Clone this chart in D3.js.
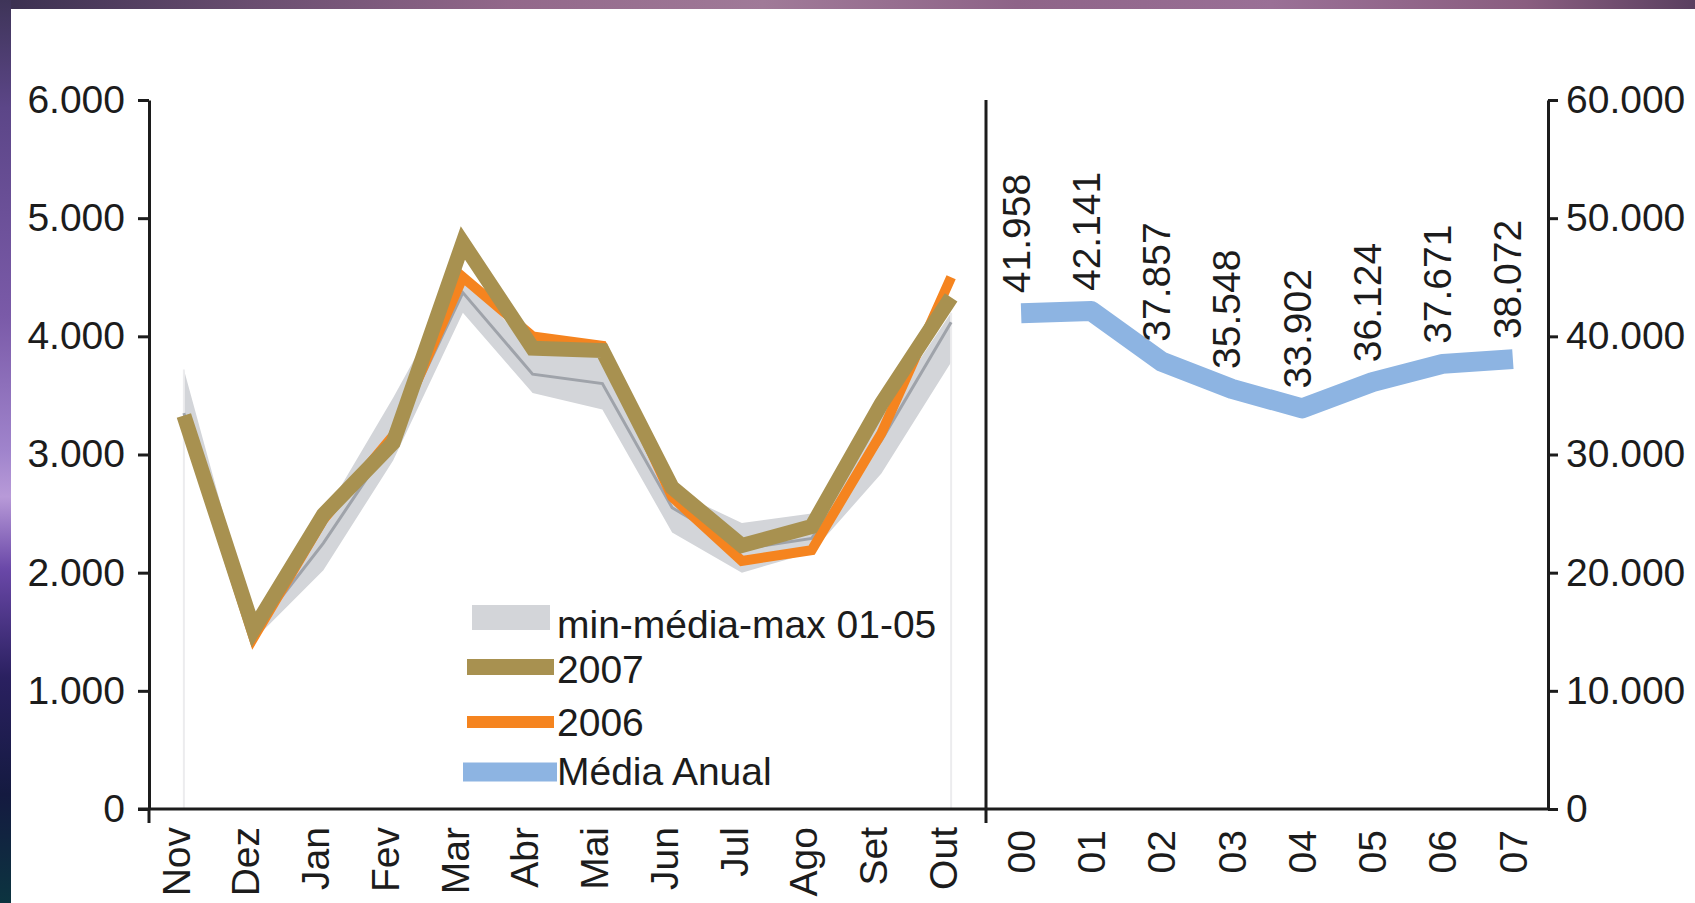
<!DOCTYPE html>
<html lang="pt">
<head>
  <meta charset="UTF-8">
  <title>Média mensal e anual</title>
  <style>
    body { margin: 0; background: #ffffff; }
    svg { display: block; }
    text { font-family: "Liberation Sans", Arial, sans-serif; fill: #1c1c1c; }
  </style>
</head>
<body>
  <div id="chart"></div>
  <script src="https://d3js.org/d3.v7.min.js"></script>
  <script>
    // monthly panel
    const months = ['Nov', 'Dez', 'Jan', 'Fev', 'Mar', 'Abr', 'Mai', 'Jun', 'Jul', 'Ago', 'Set', 'Out'];
    const serie2007 = [3330, 1520, 2490, 3100, 4790, 3900, 3880, 2720, 2230, 2390, 3430, 4330];
    const serie2006 = [3310, 1450, 2450, 3160, 4500, 4000, 3920, 2640, 2100, 2190, 3180, 4500];
    const minimo = [3250, 1430, 2020, 2950, 4200, 3520, 3380, 2340, 2000, 2170, 2840, 3780];
    const media = [3350, 1490, 2250, 3130, 4370, 3680, 3600, 2550, 2200, 2290, 3120, 4120];
    const maximo = [3720, 1560, 2480, 3480, 4550, 3860, 3850, 2700, 2420, 2500, 3320, 4200];

    // annual panel
    const years = ['00', '01', '02', '03', '04', '05', '06', '07'];
    const mediaAnual = [41958, 42141, 37857, 35548, 33902, 36124, 37671, 38072];

    const leftTicks = [0, 1000, 2000, 3000, 4000, 5000, 6000];
    const rightTicks = [0, 10000, 20000, 30000, 40000, 50000, 60000];

    const width = 1695;
    const height = 903;
    const fontSize = 39;

    const pt = d3.formatLocale({ decimal: ',', thousands: '.', grouping: [3], currency: ['', ''] });
    const fmt = pt.format(',');

    const svg = d3.select('#chart')
      .append('svg')
      .attr('width', width)
      .attr('height', height);

    // slide background frame
    const defs = svg.append('defs');
    const gLeft = defs.append('linearGradient').attr('id', 'leftBg')
      .attr('x1', 0).attr('y1', 0).attr('x2', 0).attr('y2', 1);
    [[0, '#3e3458'], [0.12, '#5c4688'], [0.35, '#7a5aa8'], [0.5, '#a084cc'], [0.55, '#b89ad8'],
     [0.63, '#6a48a8'], [0.75, '#2a2060'], [0.88, '#141a40'], [1, '#0c3440']]
      .forEach(s => gLeft.append('stop').attr('offset', s[0]).attr('stop-color', s[1]));
    const gTop = defs.append('linearGradient').attr('id', 'topBg');
    [[0, '#3a3050'], [0.15, '#6a4e70'], [0.3, '#92688a'], [0.45, '#a07a98'], [0.6, '#8e6488'],
     [0.75, '#9a7096'], [0.9, '#8a5e80'], [1, '#5a4060']]
      .forEach(s => gTop.append('stop').attr('offset', s[0]).attr('stop-color', s[1]));

    svg.append('rect').attr('x', 0).attr('y', 0).attr('width', width).attr('height', 9).attr('fill', 'url(#topBg)');
    svg.append('rect').attr('x', 0).attr('y', 0).attr('width', 11).attr('height', height).attr('fill', 'url(#leftBg)');

    const yTop = 100;
    const yBase = 809;
    const xLeft = 149;
    const xMid = 986;
    const xRight = 1548;

    const xM = d3.scaleBand().domain(months).range([xLeft, xMid]);
    const xY = d3.scaleBand().domain(years).range([xMid, xRight]);
    const yL = d3.scaleLinear().domain([0, 6000]).range([yBase, yTop]);
    const yR = d3.scaleLinear().domain([0, 60000]).range([yBase, yTop]);

    const cx = (m) => xM(m) + xM.bandwidth() / 2;
    const cy = (y) => xY(y) + xY.bandwidth() / 2;

    // min-max band
    const band = d3.area()
      .x((d, i) => cx(months[i]))
      .y0((d, i) => yL(minimo[i]))
      .y1((d, i) => yL(maximo[i]));
    svg.append('path')
      .datum(months)
      .attr('d', band)
      .attr('fill', '#d3d5d9');

    // faint edges of the band down to the axis
    [0, months.length - 1].forEach(i => {
      svg.append('line')
        .attr('x1', cx(months[i])).attr('x2', cx(months[i]))
        .attr('y1', yL(maximo[i])).attr('y2', yL(0))
        .attr('stroke', '#ececee').attr('stroke-width', 2);
    });

    const lineOf = (vals) => d3.line()
      .x((d, i) => cx(months[i]))
      .y((d, i) => yL(vals[i]));

    svg.append('path').datum(media).attr('d', lineOf(media)(media))
      .attr('fill', 'none').attr('stroke', '#9fa3aa').attr('stroke-width', 3);

    svg.append('path').datum(serie2006).attr('d', lineOf(serie2006)(serie2006))
      .attr('fill', 'none').attr('stroke', '#f5841f').attr('stroke-width', 10)
      .attr('stroke-linejoin', 'miter');

    svg.append('path').datum(serie2007).attr('d', lineOf(serie2007)(serie2007))
      .attr('fill', 'none').attr('stroke', '#a89150').attr('stroke-width', 15)
      .attr('stroke-linejoin', 'miter');

    // annual line
    const lineA = d3.line()
      .x((d, i) => cy(years[i]))
      .y(d => yR(d));
    svg.append('path').datum(mediaAnual).attr('d', lineA)
      .attr('fill', 'none').attr('stroke', '#8db4e2').attr('stroke-width', 20)
      .attr('stroke-linejoin', 'round');

    svg.selectAll('.val')
      .data(mediaAnual)
      .enter()
      .append('text')
      .attr('class', 'val')
      .attr('transform', (d, i) => `translate(${cy(years[i])}, ${yR(d) - 20}) rotate(-90)`)
      .attr('dy', '0.22em')
      .attr('font-size', fontSize)
      .text(d => fmt(d));

    // axes
    const axisColor = '#1c1c1c';
    const leftAxis = svg.append('g')
      .attr('transform', `translate(${xLeft}, 0)`)
      .call(d3.axisLeft(yL).tickValues(leftTicks).tickSize(11).tickSizeOuter(0).tickPadding(13).tickFormat(fmt));
    const rightAxis = svg.append('g')
      .attr('transform', `translate(${xRight}, 0)`)
      .call(d3.axisRight(yR).tickValues(rightTicks).tickSize(10).tickSizeOuter(0).tickPadding(8).tickFormat(fmt));
    [leftAxis, rightAxis].forEach(a => {
      a.selectAll('path, line').attr('stroke', axisColor).attr('stroke-width', 3);
      a.selectAll('text').attr('font-size', fontSize).attr('fill', axisColor);
    });

    const monthAxis = svg.append('g')
      .attr('transform', `translate(0, ${yBase})`)
      .call(d3.axisBottom(xM).tickSize(0).tickSizeOuter(0));
    monthAxis.select('.domain').remove();
    monthAxis.selectAll('text')
      .attr('transform', 'rotate(-90)')
      .attr('text-anchor', 'end')
      .attr('x', -18).attr('y', 0).attr('dy', '0.15em')
      .attr('font-size', fontSize).attr('fill', axisColor);

    const yearAxis = svg.append('g')
      .attr('transform', `translate(0, ${yBase})`)
      .call(d3.axisBottom(xY).tickSize(0).tickSizeOuter(0));
    yearAxis.select('.domain').remove();
    yearAxis.selectAll('text')
      .attr('transform', 'rotate(-90)')
      .attr('text-anchor', 'end')
      .attr('x', -21).attr('y', 0).attr('dy', '0.35em')
      .attr('font-size', fontSize).attr('fill', axisColor);

    // base line, divider and corner ticks
    svg.append('line').attr('x1', xLeft - 11).attr('x2', xRight)
      .attr('y1', yBase).attr('y2', yBase)
      .attr('stroke', axisColor).attr('stroke-width', 3);
    svg.append('line').attr('x1', xMid).attr('x2', xMid)
      .attr('y1', yTop).attr('y2', yBase + 14)
      .attr('stroke', axisColor).attr('stroke-width', 3);
    svg.append('line').attr('x1', xLeft).attr('x2', xLeft)
      .attr('y1', yBase).attr('y2', yBase + 14)
      .attr('stroke', axisColor).attr('stroke-width', 3);

    // legend
    const legend = svg.append('g').attr('transform', 'translate(463, 605)');
    legend.append('rect').attr('x', 9).attr('y', 0).attr('width', 78).attr('height', 25).attr('fill', '#d3d5d9');
    legend.append('line').attr('x1', 4).attr('x2', 91).attr('y1', 62).attr('y2', 62)
      .attr('stroke', '#a89150').attr('stroke-width', 16);
    legend.append('line').attr('x1', 4).attr('x2', 91).attr('y1', 117).attr('y2', 117)
      .attr('stroke', '#f5841f').attr('stroke-width', 12);
    legend.append('line').attr('x1', 0).attr('x2', 94).attr('y1', 167).attr('y2', 167)
      .attr('stroke', '#8db4e2').attr('stroke-width', 19);

    const legendText = ['min-média-max 01-05', '2007', '2006', 'Média Anual'];
    const legendY = [33, 78, 131, 180];
    legend.selectAll('.lt')
      .data(legendText)
      .enter()
      .append('text')
      .attr('class', 'lt')
      .attr('x', 94)
      .attr('y', (d, i) => legendY[i])
      .attr('font-size', fontSize)
      .text(d => d);
  </script>
</body>
</html>
